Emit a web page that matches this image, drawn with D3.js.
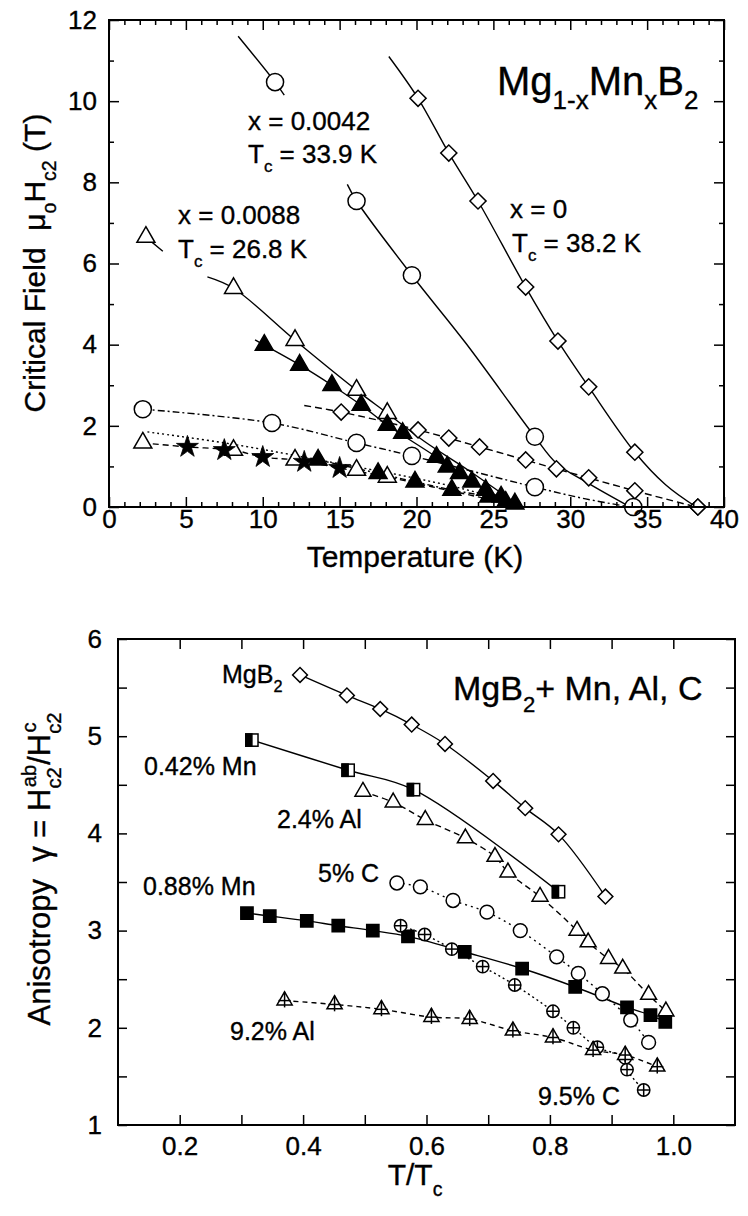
<!DOCTYPE html>
<html>
<head>
<meta charset="utf-8">
<script src="https://cdn.jsdelivr.net/npm/d3@7"></script>
<style>
body { margin: 0; background: #fff; }
text { font-family: "Liberation Sans", Arial, sans-serif; fill: #000; white-space: pre; stroke: #000; stroke-width: 0.35px; }
</style>
</head>
<body>
<svg id="canvas"></svg>
<script>
// ---------- top panel: Hc2 vs T, points are [T (K), mu0Hc2 (T)] ----------
let diaAb = [[20.1,10.07],[22.1,8.72],[24.0,7.54],[27.1,5.42],[29.2,4.09],[31.2,2.96],[34.2,1.35],[38.3,0]]
let diaC = [[15.1,2.34],[20.1,1.9],[22.1,1.7],[24.1,1.48],[27.1,1.16],[29.1,0.94],[31.2,0.72],[34.2,0.4],[38.3,0]]
let cirAb = [[10.8,10.47],[16.1,7.54],[19.7,5.71],[27.7,1.73],[34.1,0]]
let cirC = [[2.2,2.41],[10.6,2.07],[16.1,1.58],[19.7,1.26],[27.7,0.49]]
let triAb = [[2.4,6.65],[8.1,5.39],[12.1,4.11],[16.1,2.88],[18.1,2.31]]
let triC = [[2.2,1.58],[8.1,1.40],[12.1,1.16],[16.1,0.91],[18.1,0.74]]
let triFillUp = [[10.1,3.99],[12.4,3.5],[14.5,3.0],[16.4,2.51],[18.1,2.02],[19.1,1.82],[21.3,1.23],[22.0,0.99],[22.8,0.83],[23.6,0.62],[24.5,0.42],[25.5,0.25],[26.4,0.08]]
let triFillLow = [[13.6,1.16],[17.5,0.83],[19.9,0.62],[22.3,0.42],[24.7,0.25],[25.8,0.12]]
let stars = [[5.1,1.48],[7.5,1.40],[10.0,1.23],[12.7,1.11],[15.0,0.96]]

// fitted curves (null = break in the line)
let fitDiaAb = [[18.2,11.1],[20.1,10.07],[22.1,8.72],[24.0,7.54],[27.1,5.42],[29.2,4.09],[31.2,2.96],[34.2,1.35],[36.2,0.55],[38.2,0]]
let fitDiaC = [[12.7,2.5],[15.1,2.34],[20.1,1.9],[24.1,1.48],[29.1,0.94],[34.2,0.4],[38.2,0]]
let fitCirAb = [[8.4,11.6],[10.8,10.47],[11.4,10.15],null,[15.5,7.95],[16.1,7.54],[19.7,5.71],[23.2,4.04],[27.7,1.73],[29.1,1.08],[31.1,0.6],[33.9,0]]
let fitCirC = [[2.2,2.41],[10.6,2.07],[16.1,1.58],[19.7,1.26],[27.7,0.49],[31.0,0.2],[33.9,0]]
let fitTriAb = [[2.4,6.65],[3.5,6.3],null,[6.4,5.67],[8.1,5.39],[12.1,4.11],[16.1,2.88],[18.1,2.31],[20.5,1.62],[23.4,0.9],[26.8,0]]
let fitTriC = [[2.2,1.58],[5.1,1.48],[8.1,1.40],[10.0,1.23],[12.1,1.16],[15.0,0.96],[18.1,0.74],[21.0,0.5],[24.0,0.25],[26.8,0]]
let fitDots = [[2.5,1.85],[8.0,1.55],[14.5,1.1],[19.0,0.78],[23.0,0.45],[26.8,0.05]]
let fitFillUp = [[9.5,4.12],[10.1,3.99],[12.4,3.5],[14.5,3.0],[16.4,2.51],[18.1,2.02],[21.3,1.23],[23.6,0.62],[26.4,0.05]]
let fitFillLow = [[13.6,1.16],[17.5,0.83],[19.9,0.62],[22.3,0.42],[24.7,0.25],[25.8,0.12],[26.8,0]]

let topXLabels = [0,5,10,15,20,25,30,35,40]
let topXMinor = [1,2,3,4,6,7,8,9,11,12,13,14,16,17,18,19,21,22,23,24,26,27,28,29,31,32,33,34,36,37,38,39]
let topYLabels = [0,2,4,6,8,10,12]
let topYMinor = [1,3,5,7,9,11]

// ---------- bottom panel: anisotropy vs T/Tc, points are [T/Tc, gamma] ----------
let mgb2 = [[0.395,5.63],[0.471,5.42],[0.525,5.28],[0.576,5.12],[0.63,4.92],[0.708,4.54],[0.76,4.26],[0.814,3.99],[0.89,3.35]]
let mn042 = [[0.317,4.96],[0.473,4.65],[0.579,4.45],[0.814,3.40]]
let al24 = [[0.497,4.43],[0.546,4.32],[0.598,4.14],[0.663,3.95],[0.711,3.76],[0.732,3.6],[0.784,3.35],[0.844,3.0],[0.862,2.88],[0.895,2.71],[0.918,2.61],[0.96,2.34],[0.988,2.17]]
let c5 = [[0.552,3.49],[0.59,3.45],[0.643,3.31],[0.698,3.19],[0.752,3.0],[0.811,2.73],[0.846,2.56],[0.885,2.35],[0.931,2.08],[0.96,1.85]]
let mn088 = [[0.309,3.18],[0.346,3.15],[0.406,3.10],[0.457,3.05],[0.513,3.0],[0.57,2.94],[0.662,2.78],[0.755,2.61],[0.841,2.42],[0.925,2.21],[0.963,2.13],[0.987,2.06]]
let c95 = [[0.558,3.05],[0.597,2.96],[0.641,2.81],[0.691,2.63],[0.743,2.44],[0.805,2.17],[0.838,2.0],[0.877,1.8],[0.922,1.69],[0.925,1.57],[0.952,1.36]]
let al92 = [[0.37,2.28],[0.451,2.24],[0.527,2.19],[0.608,2.11],[0.67,2.09],[0.74,1.97],[0.805,1.90],[0.87,1.77],[0.922,1.72],[0.974,1.60]]

let botXLabels = [0.2,0.4,0.6,0.8,1.0]
let botXMinor = [0.3,0.5,0.7,0.9]
let botYLabels = [1,2,3,4,5,6]
let botYMinor = [1.5,2.5,3.5,4.5,5.5]

let svg = d3.select('#canvas').attr('width', 748).attr('height', 1216)

let tx = d3.scaleLinear().domain([0,40]).range([109,724])
let ty = d3.scaleLinear().domain([0,12]).range([507,20])
let bx = d3.scaleLinear().domain([0.1,1.1]).range([118,735])
let by = d3.scaleLinear().domain([1,6]).range([1125,639])

let drawFrame = (x, y, o) => {
    let g = svg.append('g')
    let [x0, x1] = x.range(), [y0, y1] = y.range()
    let put = (axis, tr) => g.append('g').attr('transform', tr).call(axis)
        .call(s => s.select('.domain').remove())
        .call(s => s.selectAll('line').attr('stroke-width', 1.5))
        .call(s => s.selectAll('text').attr('font-size', o.fs).style('font-family', null))
    put(d3.axisBottom(x).tickValues(o.xMinor).tickSize(-o.minX).tickFormat(''), `translate(0,${y0})`)
    put(d3.axisBottom(x).tickValues(o.xLab).tickSize(-o.majX).tickPadding(o.xPad).tickFormat(o.fx), `translate(0,${y0})`)
    put(d3.axisTop(x).tickValues(o.xMinor).tickSize(-o.minX).tickFormat(''), `translate(0,${y1})`)
    put(d3.axisTop(x).tickValues(o.xLab).tickSize(-o.majX).tickFormat(''), `translate(0,${y1})`)
    put(d3.axisLeft(y).tickValues(o.yMinor).tickSize(-o.minY).tickFormat(''), `translate(${x0},0)`)
    put(d3.axisLeft(y).tickValues(o.yLab).tickSize(-o.majY).tickPadding(o.yPad).tickFormat(o.fy), `translate(${x0},0)`)
    put(d3.axisRight(y).tickValues(o.yMinor).tickSize(-o.minY).tickFormat(''), `translate(${x1},0)`)
    put(d3.axisRight(y).tickValues(o.yLab).tickSize(-o.majY).tickFormat(''), `translate(${x1},0)`)
    g.append('rect').attr('x', x0).attr('y', y1).attr('width', x1 - x0).attr('height', y0 - y1)
        .attr('fill', 'none').attr('stroke', '#000').attr('stroke-width', 2)
}

let drawLine = (data, x, y, dash, w) => {
    let line = d3.line().defined(d => d).x(d => x(d[0])).y(d => y(d[1])).curve(d3.curveCatmullRom)
    svg.append('path').attr('d', line(data)).attr('fill', 'none').attr('stroke', '#000')
        .attr('stroke-width', w || 1.4).attr('stroke-dasharray', dash || null)
}

let drawMarks = (data, x, y, type, size) => {
    let g = svg.append('g').selectAll('g').data(data).join('g')
        .attr('transform', d => `translate(${x(d[0])},${y(d[1])})`)
        .attr('stroke', '#000').attr('stroke-width', 1.5)
    let r = Math.sqrt(size / Math.PI)
    if (type === 'diamond') {
        g.append('path').attr('d', d3.symbol(d3.symbolSquare, size)()).attr('transform', 'rotate(45)').attr('fill', '#fff')
    } else if (type === 'circle' || type === 'circlePlus') {
        g.append('circle').attr('r', r).attr('fill', '#fff')
        if (type === 'circlePlus') {
            g.append('line').attr('x1', -r).attr('x2', r)
            g.append('line').attr('y1', -r).attr('y2', r)
        }
    } else if (type === 'tri' || type === 'triFill' || type === 'triPlus') {
        g.append('path').attr('d', d3.symbol(d3.symbolTriangle, size)()).attr('fill', type === 'triFill' ? '#000' : '#fff')
        if (type === 'triPlus') {
            let s = Math.sqrt(size * 4 / Math.sqrt(3))
            g.append('line').attr('y1', -s * 0.58).attr('y2', s * 0.45)
            g.append('line').attr('x1', -s * 0.4).attr('x2', s * 0.4)
        }
    } else if (type === 'star') {
        g.append('path').attr('d', d3.symbol(d3.symbolStar, size)()).attr('fill', '#000').attr('stroke-width', 0.8)
    } else if (type === 'square') {
        g.append('path').attr('d', d3.symbol(d3.symbolSquare, size)()).attr('fill', '#000')
    } else if (type === 'half') {
        let a = Math.sqrt(size)
        g.append('rect').attr('x', -a / 2).attr('y', -a / 2).attr('width', a).attr('height', a).attr('fill', '#fff')
        g.append('rect').attr('x', -a / 2).attr('y', -a / 2).attr('width', a / 2).attr('height', a).attr('fill', '#000')
    }
}

let rich = (x, y, parts, fs, opts = {}) => {
    let t = svg.append('text').attr('font-size', fs)
        .attr('transform', `translate(${x},${y})` + (opts.rot ? ` rotate(${opts.rot})` : ''))
        .attr('text-anchor', opts.anchor || 'start')
    let shift = 0
    parts.forEach(([s, kind, dx]) => {
        let target = kind === 'sub' ? fs * 0.35 : kind === 'sup' ? -fs * 0.45 : 0
        let ts = t.append('tspan').text(s).attr('dy', target - shift).attr('font-size', kind ? fs * 0.65 : fs)
        if (dx) ts.attr('dx', dx)
        shift = target
    })
    return t
}

// ---------- top panel ----------
drawLine(fitDiaAb, tx, ty)
drawLine(fitDiaC, tx, ty, '7,4')
drawLine(fitCirAb, tx, ty)
drawLine(fitCirC, tx, ty, '7,3,2,3')
drawLine(fitTriAb, tx, ty)
drawLine(fitTriC, tx, ty, '6,4')
drawLine(fitDots, tx, ty, '2,3')
drawLine(fitFillUp, tx, ty)
drawLine(fitFillLow, tx, ty, '6,3,2,3')

drawMarks(diaAb, tx, ty, 'diamond', 130)
drawMarks(diaC, tx, ty, 'diamond', 130)
drawMarks(cirAb, tx, ty, 'circle', 230)
drawMarks(cirC, tx, ty, 'circle', 230)
drawMarks(triAb, tx, ty, 'tri', 140)
drawMarks(triC, tx, ty, 'tri', 140)
drawMarks(triFillUp, tx, ty, 'triFill', 140)
drawMarks(triFillLow, tx, ty, 'triFill', 140)
drawMarks(stars, tx, ty, 'star', 150)

drawFrame(tx, ty, {xLab: topXLabels, xMinor: topXMinor, yLab: topYLabels, yMinor: topYMinor,
    majX: 10, minX: 5, majY: 10, minY: 5, xPad: 3, yPad: 12, fs: 26, fx: d3.format('d'), fy: d3.format('d')})

rich(497, 95, [['Mg'], ['1-x', 'sub'], ['Mn'], ['x', 'sub'], ['B'], ['2', 'sub']], 40)
rich(248, 130, [['x = 0.0042']], 26)
rich(248, 163, [['T'], ['c', 'sub'], [' = 33.9 K']], 26)
rich(178, 224, [['x = 0.0088']], 26)
rich(178, 258, [['T'], ['c', 'sub'], [' = 26.8 K']], 26)
rich(510, 218, [['x = 0']], 26)
rich(512, 252, [['T'], ['c', 'sub'], [' = 38.2 K']], 26)
rich(415, 567, [['Temperature (K)']], 30, {anchor: 'middle'})
rich(45, 263, [['Critical Field  \u03bc'], ['o', 'sub'], ['H'], ['c2', 'sub'], [' (T)']], 30, {anchor: 'middle', rot: -90})

// ---------- bottom panel ----------
drawLine(mgb2, bx, by)
drawLine(mn042, bx, by)
drawLine(al24, bx, by, '6,4')
drawLine(c5, bx, by, '2,4')
drawLine(mn088, bx, by)
drawLine(c95, bx, by, '2,3')
drawLine(al92, bx, by, '5,4')

drawMarks(mgb2, bx, by, 'diamond', 110)
drawMarks(mn042, bx, by, 'half', 150)
drawMarks(al24, bx, by, 'tri', 110)
drawMarks(c5, bx, by, 'circle', 150)
drawMarks(mn088, bx, by, 'square', 150)
drawMarks(c95, bx, by, 'circlePlus', 120)
drawMarks(al92, bx, by, 'triPlus', 100)

drawFrame(bx, by, {xLab: botXLabels, xMinor: botXMinor, yLab: botYLabels, yMinor: botYMinor,
    majX: 10, minX: 10, majY: 9, minY: 9, xPad: 12, yPad: 16, fs: 26, fx: d3.format('.1f'), fy: d3.format('d')})

rich(453, 700, [['MgB'], ['2', 'sub'], ['+ Mn, Al, C']], 34)
rich(222, 683, [['MgB'], ['2', 'sub']], 25)
rich(144, 775, [['0.42% Mn']], 25)
rich(277, 828, [['2.4% Al']], 25)
rich(318, 882, [['5% C']], 25)
rich(143, 895, [['0.88% Mn']], 25)
rich(230, 1040, [['9.2% Al']], 25)
rich(538, 1105, [['9.5% C']], 25)
rich(415, 1185, [['T/T'], ['c', 'sub']], 30, {anchor: 'middle'})
rich(50, 869, [['Anisotropy  \u03b3 = H'], ['c2', 'sub'], ['ab', 'sup', -20], ['/H'], ['c2', 'sub'], ['c', 'sup', -20]], 31, {anchor: 'middle', rot: -90})
</script>
</body>
</html>
